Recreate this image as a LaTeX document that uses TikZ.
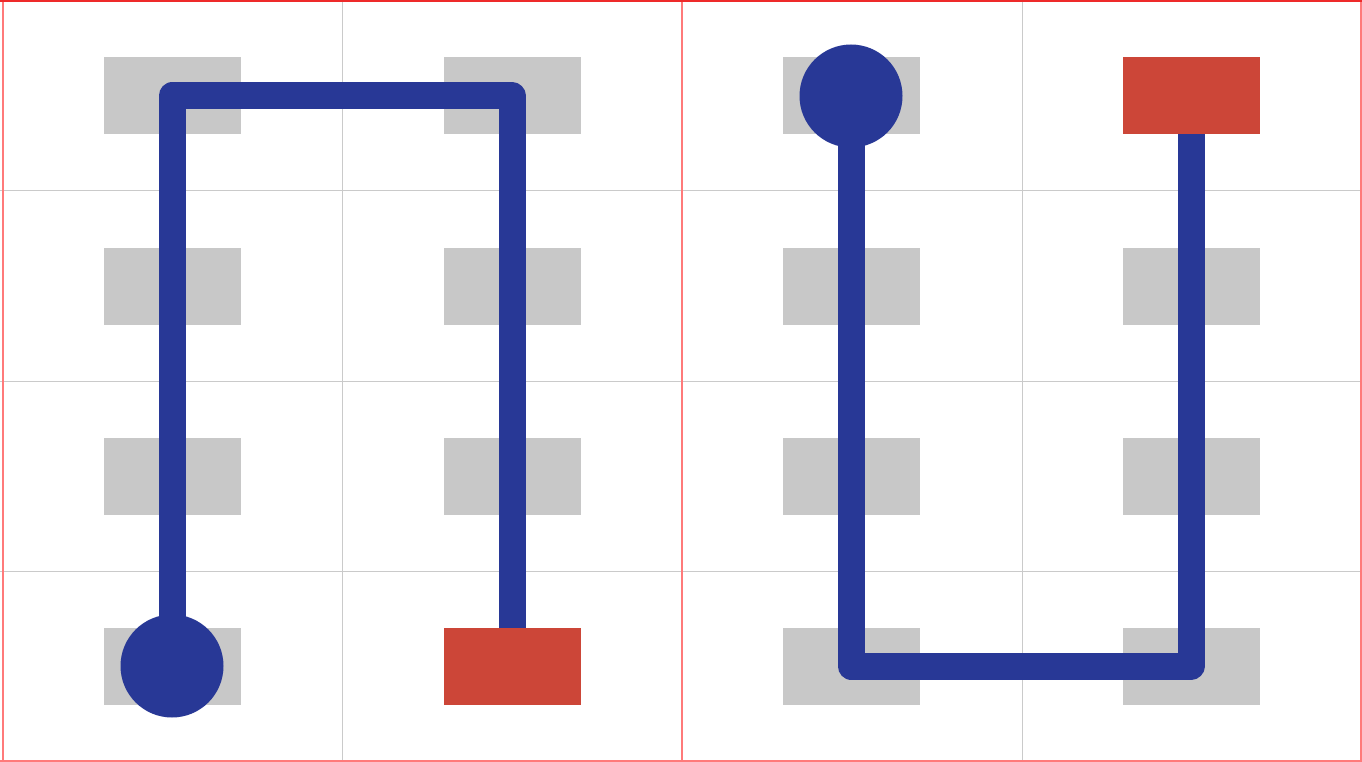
\documentclass[tikz,border=0pt]{standalone}
\usetikzlibrary{calc}
\definecolor{pathblue}{HTML}{283896}
\definecolor{endred}{HTML}{CC4638}
\definecolor{cellgray}{HTML}{C8C8C8}
\definecolor{gridgray}{HTML}{CACACA}
\definecolor{frame}{HTML}{FF7A7A}
\definecolor{frametop}{HTML}{EE2A2A}
\tikzset{
  cell/.style={fill=cellgray, minimum width=137pt, minimum height=77pt, inner sep=0pt, outer sep=0pt},
  goal/.style={fill=endred, minimum width=137pt, minimum height=77pt, inner sep=0pt, outer sep=0pt},
  start/.style={circle, fill=pathblue, minimum size=103pt, inner sep=0pt, outer sep=0pt},
  route/.style={draw=pathblue, line width=27pt, line join=round, line cap=round},
  gridline/.style={draw=gridgray, line width=1pt},
  border/.style={draw=frame, line width=2pt}
}
\begin{document}
\begin{tikzpicture}[x=1pt,y=-1pt]
\useasboundingbox (0,0) rectangle (1362,762);
\fill[white] (0,0) rectangle (1362,762);
% grid
\foreach \gx in {342,1022} \draw[gridline] (\gx,0) -- (\gx,762);
\foreach \gy in {191,381,571} \draw[gridline] (0,\gy) -- (1362,\gy);
% borders
\draw[border] (2.5,0) -- (2.5,762);
\draw[border] (682,0) -- (682,762);
\draw[border] (1360.5,0) -- (1360.5,762);
\draw[border] (0,761) -- (1362,761);
\draw[draw=frametop, line width=2pt] (0,1) -- (1362,1);
% cells
\foreach \cx/\cn in {172/a,512/b,851/c,1191/d}
  \foreach \cy/\rn in {96/1,286/2,476/3,666/4}
    \node[cell] (\cn\rn) at (\cx,\cy) {};
% routes
\draw[route] (a4.center) -- (a1.center) -- (b1.center) -- (b4.center);
\draw[route] (c1.center) -- (c4.center) -- (d4.center) -- (d1.center);
% ends
\node[start] (s1) at (a4.center) {};
\node[goal] (g1) at (b4.center) {};
\node[start] (s2) at (c1.center) {};
\node[goal] (g2) at (d1.center) {};
\end{tikzpicture}
\end{document}
